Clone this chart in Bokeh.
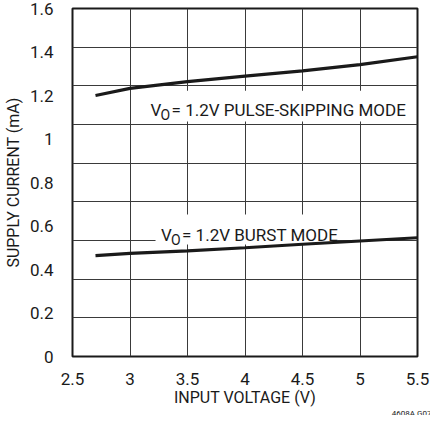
from bokeh.plotting import figure
from bokeh.models import FixedTicker, Label, Range1d, Title
from bokeh.embed import file_html
from bokeh.resources import INLINE

# ---- data ----
vin = [2.7, 3.0, 3.5, 4.0, 4.5, 5.0, 5.5]
i_pulse_skip = [1.200, 1.233, 1.264, 1.289, 1.313, 1.342, 1.378]
i_burst = [0.464, 0.474, 0.486, 0.500, 0.516, 0.531, 0.546]

x_ticks = [2.5, 3.0, 3.5, 4.0, 4.5, 5.0, 5.5]
x_tick_labels = ["2.5", "3", "3.5", "4", "4.5", "5", "5.5"]
y_ticks = [0, 0.2, 0.4, 0.6, 0.8, 1.0, 1.2, 1.4, 1.6]
y_tick_labels = ["0", "0.2", "0.4", "0.6", "0.8", "1", "1.2", "1.4", "1.6"]
n_grid_rows = 9

label_pulse = "= 1.2V PULSE-SKIPPING MODE"
label_burst = "= 1.2V BURST MODE"
x_title = "INPUT VOLTAGE (V)"
y_title = "SUPPLY CURRENT (mA)"
code_text = "4608A G07"

FONT = "Roboto"
INK = "#1a1a1a"

p = figure(width=430, height=415, output_backend="svg", toolbar_location=None,
           x_range=Range1d(2.5, 5.5), y_range=Range1d(0, 1.6),
           min_border_left=65, min_border_right=13, min_border_top=8,
           min_border_bottom=55)

# frame & grid
p.outline_line_color = INK
p.outline_line_width = 2
p.xgrid.ticker = FixedTicker(ticks=x_ticks)
p.ygrid.ticker = FixedTicker(ticks=[k * 1.6 / n_grid_rows for k in range(n_grid_rows + 1)])
for g in (p.xgrid, p.ygrid):
    g.grid_line_color = "#3a3a3a"
    g.grid_line_width = 1
    g.grid_line_alpha = 1

# axes
p.xaxis.ticker = FixedTicker(ticks=x_ticks)
p.yaxis.ticker = FixedTicker(ticks=y_ticks)
p.xaxis.major_label_overrides = {t: s for t, s in zip(x_ticks, x_tick_labels)}
p.yaxis.major_label_overrides = {t: s for t, s in zip(y_ticks, y_tick_labels)}
p.xaxis.axis_label = x_title
p.yaxis.axis_label = y_title
for ax in (p.xaxis, p.yaxis):
    ax.axis_line_color = None
    ax.major_tick_line_color = None
    ax.minor_tick_line_color = None
    ax.major_label_text_font = FONT
    ax.major_label_text_font_size = "17px"
    ax.major_label_text_color = INK
    ax.axis_label_text_font = FONT
    ax.axis_label_text_font_size = "16px"
    ax.axis_label_text_font_style = "normal"
    ax.axis_label_text_color = INK
p.xaxis.major_label_standoff = 10
p.xaxis.axis_label_standoff = 0
p.yaxis.major_label_standoff = 13
p.yaxis.axis_label_standoff = 4

p.add_layout(Title(text=code_text, align="right", text_font=FONT,
                   text_font_size="8px", text_font_style="normal",
                   text_color=INK, standoff=-5, offset=-14), "below")

# white boxes behind the annotations (hide grid lines)
p.quad(left=[3.114], right=[5.415], top=[1.222], bottom=[1.080],
       fill_color="white", line_color=None)
p.quad(left=[3.222], right=[4.801], top=[0.653], bottom=[0.515],
       fill_color="white", line_color=None)

# curves
p.line(vin, i_pulse_skip, line_color=INK, line_width=3.2)
p.line(vin, i_burst, line_color=INK, line_width=3.2)

def vo_label(x, y, rest):
    common = dict(text_font=FONT, text_color=INK, text_baseline="alphabetic")
    p.add_layout(Label(x=x, y=y, text="V", text_font_size="17px", **common))
    p.add_layout(Label(x=x, y=y, x_offset=10, y_offset=-5, text="O",
                       text_font_size="14px", **common))
    p.add_layout(Label(x=x, y=y, x_offset=21, text=rest,
                       text_font_size="17px", **common))

vo_label(3.179, 1.135, label_pulse)
vo_label(3.270, 0.557, label_burst)

open("out.html", "w").write(file_html(p, INLINE))
